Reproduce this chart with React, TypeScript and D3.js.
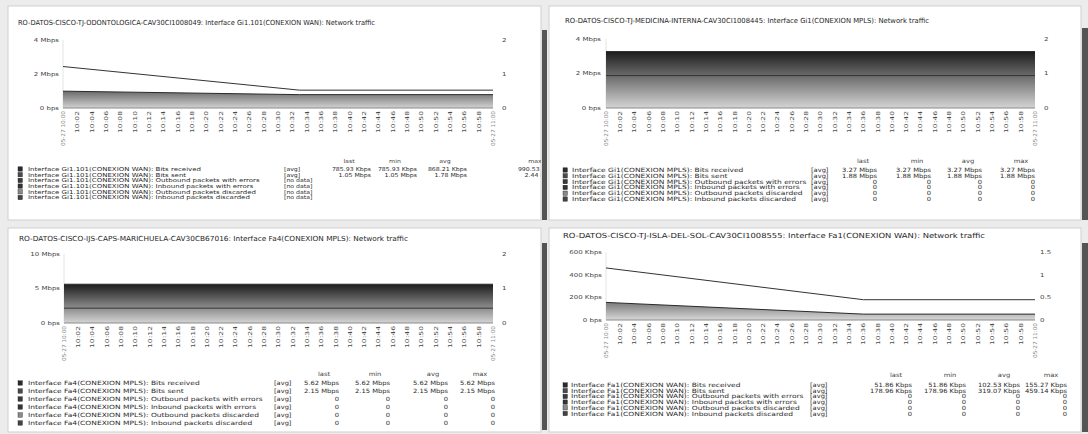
import * as d3 from "d3";

const DATE = "05-27";
const START = "10:00";
const END = "11:00";

const metricNames = [
  "Bits received",
  "Bits sent",
  "Outbound packets with errors",
  "Inbound packets with errors",
  "Outbound packets discarded",
  "Inbound packets discarded",
];
const legendHeader = ["last", "min", "avg", "max"];

// Panel 1 - top left
const p1Title = "RO-DATOS-CISCO-TJ-ODONTOLOGICA-CAV30CI1008049: Interface Gi1.101(CONEXION WAN): Network traffic";
const p1Iface = "Interface Gi1.101(CONEXION WAN)";
const p1YMax = 4000000;
const p1YLabels = ["0 bps", "2 Mbps", "4 Mbps"];
const p1RLabels = ["0", "1", "2"];
const p1Times = ["10:00", "10:33", "11:00"];
const p1Received = [990530, 785930, 785930];
const p1Sent = [2440000, 1050000, 1050000];
const p1Func = ["[avg]", "[avg]", "[no data]", "[no data]", "[no data]", "[no data]"];
const p1Last = ["785.93 Kbps", "1.05 Mbps", "", "", "", ""];
const p1Min = ["785.93 Kbps", "1.05 Mbps", "", "", "", ""];
const p1Avg = ["868.21 Kbps", "1.78 Mbps", "", "", "", ""];
const p1Max = ["990.53 Kbps", "2.44 Mbps", "", "", "", ""];

// Panel 2 - top right
const p2Title = "RO-DATOS-CISCO-TJ-MEDICINA-INTERNA-CAV30CI1008445: Interface Gi1(CONEXION MPLS): Network traffic";
const p2Iface = "Interface Gi1(CONEXION MPLS)";
const p2YMax = 4000000;
const p2YLabels = ["0 bps", "2 Mbps", "4 Mbps"];
const p2RLabels = ["0", "1", "2"];
const p2Times = ["10:00", "11:00"];
const p2Received = [3270000, 3270000];
const p2Sent = [1880000, 1880000];
const p2Func = ["[avg]", "[avg]", "[avg]", "[avg]", "[avg]", "[avg]"];
const p2Last = ["3.27 Mbps", "1.88 Mbps", "0", "0", "0", "0"];
const p2Min = ["3.27 Mbps", "1.88 Mbps", "0", "0", "0", "0"];
const p2Avg = ["3.27 Mbps", "1.88 Mbps", "0", "0", "0", "0"];
const p2Max = ["3.27 Mbps", "1.88 Mbps", "0", "0", "0", "0"];

// Panel 3 - bottom left
const p3Title = "RO-DATOS-CISCO-IJS-CAPS-MARICHUELA-CAV30CB67016: Interface Fa4(CONEXION MPLS): Network traffic";
const p3Iface = "Interface Fa4(CONEXION MPLS)";
const p3YMax = 10000000;
const p3YLabels = ["0 bps", "5 Mbps", "10 Mbps"];
const p3RLabels = ["0", "1", "2"];
const p3Times = ["10:00", "11:00"];
const p3Received = [5620000, 5620000];
const p3Sent = [2150000, 2150000];
const p3Func = ["[avg]", "[avg]", "[avg]", "[avg]", "[avg]", "[avg]"];
const p3Last = ["5.62 Mbps", "2.15 Mbps", "0", "0", "0", "0"];
const p3Min = ["5.62 Mbps", "2.15 Mbps", "0", "0", "0", "0"];
const p3Avg = ["5.62 Mbps", "2.15 Mbps", "0", "0", "0", "0"];
const p3Max = ["5.62 Mbps", "2.15 Mbps", "0", "0", "0", "0"];

// Panel 4 - bottom right
const p4Title = "RO-DATOS-CISCO-TJ-ISLA-DEL-SOL-CAV30CI1008555: Interface Fa1(CONEXION WAN): Network traffic";
const p4Iface = "Interface Fa1(CONEXION WAN)";
const p4YMax = 600000;
const p4YLabels = ["0 bps", "200 Kbps", "400 Kbps", "600 Kbps"];
const p4RLabels = ["0", "0.5", "1", "1.5"];
const p4Times = ["10:00", "10:36", "11:00"];
const p4Received = [155270, 51860, 51860];
const p4Sent = [459140, 178960, 178960];
const p4Func = ["[avg]", "[avg]", "[avg]", "[avg]", "[avg]", "[avg]"];
const p4Last = ["51.86 Kbps", "178.96 Kbps", "0", "0", "0", "0"];
const p4Min = ["51.86 Kbps", "178.96 Kbps", "0", "0", "0", "0"];
const p4Avg = ["102.53 Kbps", "319.07 Kbps", "0", "0", "0", "0"];
const p4Max = ["155.27 Kbps", "459.14 Kbps", "0", "0", "0", "0"];

const panels = [
  { title: p1Title, iface: p1Iface, yMax: p1YMax, yLabels: p1YLabels, rLabels: p1RLabels, times: p1Times, received: p1Received, sent: p1Sent, func: p1Func, cols: [p1Last, p1Min, p1Avg, p1Max] },
  { title: p2Title, iface: p2Iface, yMax: p2YMax, yLabels: p2YLabels, rLabels: p2RLabels, times: p2Times, received: p2Received, sent: p2Sent, func: p2Func, cols: [p2Last, p2Min, p2Avg, p2Max] },
  { title: p3Title, iface: p3Iface, yMax: p3YMax, yLabels: p3YLabels, rLabels: p3RLabels, times: p3Times, received: p3Received, sent: p3Sent, func: p3Func, cols: [p3Last, p3Min, p3Avg, p3Max] },
  { title: p4Title, iface: p4Iface, yMax: p4YMax, yLabels: p4YLabels, rLabels: p4RLabels, times: p4Times, received: p4Received, sent: p4Sent, func: p4Func, cols: [p4Last, p4Min, p4Avg, p4Max] },
];

// geometry of each widget as it sits in the (slightly skewed) screenshot
const layouts = [
  { px: 8, py: 6, pw: 533, ph: 214, tx: 18, ty: 23, tlen: 357, l: 63, r: 493, t: 40, b: 108, ylx: 59, rx: 502, hy: 161, ry0: 169, rdy: 5.7, fs: 5.4, sqx: 18, txx: 28, fnx: 284, cx: [371, 417, 467, 557], hoff: -22, grad: ["#6a6a6a", "#d2d2d2"] },
  { px: 549, py: 6, pw: 532, ph: 214, tx: 565, ty: 21, tlen: 364, l: 606, r: 1035, t: 39, b: 108, ylx: 601, rx: 1044, hy: 161, ry0: 170, rdy: 5.8, fs: 5.8, sqx: 563, txx: 572, fnx: 811, cx: [877, 931, 982, 1035], hoff: -14, grad: ["#1c1c1c", "#d4d4d4"] },
  { px: 8, py: 228, pw: 533, ph: 204, tx: 19, ty: 239, tlen: 389, l: 64, r: 493, t: 254, b: 323, ylx: 60, rx: 502, hy: 374, ry0: 383, rdy: 8, fs: 5.8, sqx: 18, txx: 28, fnx: 274, cx: [339, 390, 448, 495], hoff: -15, grad: ["#1c1c1c", "#d4d4d4"] },
  { px: 549, py: 228, pw: 532, ph: 204, tx: 563, ty: 236, tlen: 422, l: 606, r: 1035, t: 252, b: 320, ylx: 602, rx: 1040, hy: 375, ry0: 385, rdy: 5.7, fs: 5.8, sqx: 563, txx: 571, fnx: 810, cx: [912, 966, 1020, 1067], hoff: -16, grad: ["#7a7a7a", "#d8d8d8"] },
];

const squareColors = ["#2b2b2b", "#4a4a4a", "#3a3a3a", "#333333", "#8a8a8a", "#444444"];

const FONT = "'DejaVu Sans', sans-serif";
const SX = 1.3;
const VSX = 1.16;
const parseHM = d3.timeParse("%H:%M");
const fmtHM = d3.timeFormat("%H:%M");

function T({ x, y, size, anchor = "start", fill = "#2a2a2a", sx = SX, children }: any) {
  return (
    <text
      transform={`translate(${x},${y}) scale(${sx},1)`}
      fontSize={size}
      textAnchor={anchor}
      dy="0.35em"
      fill={fill}
      fontFamily={FONT}
    >
      {children}
    </text>
  );
}

function Panel({ d, g, id }: any) {
  const x = d3.scaleTime().domain([parseHM(START)!, parseHM(END)!]).range([g.l, g.r]);
  const y = d3.scaleLinear().domain([0, d.yMax]).range([g.b, g.t]);
  const yr = d3.scaleLinear().domain([0, 1]).range([0, d.rLabels.length - 1]);
  const ticks = x.ticks(d3.timeMinute.every(2)!);
  const yTicks = y.ticks(d.yLabels.length - 1);
  const pts = d.times.map((s: string) => parseHM(s)!);

  const area = d3.area<number>().x((_, i) => x(pts[i])).y0(g.b).y1((v) => y(v));
  const line = d3.line<number>().x((_, i) => x(pts[i])).y((v) => y(v));

  return (
    <g>
      <defs>
        <clipPath id={`clip${id}`}>
          <rect x={g.px} y={g.py} width={g.pw} height={g.ph} />
        </clipPath>
        <linearGradient id={`grad${id}`} x1="0" y1="0" x2="0" y2="1">
          <stop offset="0%" stopColor={g.grad[0]} />
          <stop offset="100%" stopColor={g.grad[1]} />
        </linearGradient>
      </defs>
      <rect x={g.px} y={g.py} width={g.pw} height={g.ph} fill="#fff" stroke="#cfcfcf" />
      <g clipPath={`url(#clip${id})`}>
        <text x={g.tx} y={g.ty} dy="0.35em" fontSize={7} fontFamily={FONT} fill="#1e1e1e"
          textLength={g.tlen} lengthAdjust="spacingAndGlyphs">
          {d.title}
        </text>

        {/* plot */}
        <line x1={g.l} x2={g.l} y1={g.t} y2={g.b} stroke="#e4e4e4" />
        <path d={area(d.received)!} fill={`url(#grad${id})`} />
        <path d={line(d.received)!} fill="none" stroke="#2a2a2a" strokeWidth={1} />
        <path d={line(d.sent)!} fill="none" stroke="#333" strokeWidth={1} />
        <line x1={g.l} x2={g.r} y1={g.b} y2={g.b} stroke="#8a8a8a" />

        {yTicks.map((v, i) => (
          <T key={"yl" + i} x={g.ylx} y={y(v)} size={5.4} anchor="end" fill="#444">
            {d.yLabels[i]}
          </T>
        ))}
        {yTicks.map((v, i) => (
          <T key={"yr" + i} x={g.rx} y={y(v)} size={5.4} fill="#444">
            {d.rLabels[Math.round(yr((v / d.yMax)))]}
          </T>
        ))}

        {ticks.map((tk, i) => {
          const edge = i === 0 || i === ticks.length - 1;
          return (
            <text
              key={"xt" + i}
              transform={`translate(${x(tk)},${g.b + 3}) rotate(-90)`}
              textAnchor="end"
              dy="0.35em"
              fontSize={5.4}
              fontFamily={FONT}
              fill={edge ? "#8a8a8a" : "#4a4a4a"}
              textLength={edge ? 35 : 22}
              lengthAdjust="spacingAndGlyphs"
            >
              {edge ? `${DATE} ${fmtHM(tk)}` : fmtHM(tk)}
            </text>
          );
        })}

        {/* legend */}
        {legendHeader.map((h, j) => (
          <T key={"h" + j} x={g.cx[j] + g.hoff} y={g.hy} size={g.fs} anchor="middle" fill="#444" sx={VSX}>
            {h}
          </T>
        ))}
        {metricNames.map((m, i) => {
          const ry = g.ry0 + i * g.rdy;
          return (
            <g key={"lg" + i}>
              <rect x={g.sqx} y={ry - 2.2} width={4.4} height={4.4} fill={squareColors[i]} stroke="#222" strokeWidth={0.4} />
              <T x={g.txx} y={ry} size={g.fs}>{`${d.iface}: ${m}`}</T>
              <T x={g.fnx} y={ry} size={g.fs} sx={1.15}>{d.func[i]}</T>
              {d.cols.map((col: string[], j: number) => (
                <T key={"c" + j} x={g.cx[j]} y={ry} size={g.fs} anchor="end" sx={VSX}>
                  {col[i]}
                </T>
              ))}
            </g>
          );
        })}
      </g>
    </g>
  );
}

export default function App() {
  return (
    <svg width={1088} height={434} style={{ position: "absolute", left: 0, top: 0 }}>
      <rect x={0} y={0} width={1088} height={434} fill="#ececec" />
      {panels.map((d, i) => (
        <Panel key={i} d={d} g={layouts[i]} id={i} />
      ))}
      <rect x={542} y={30} width={5} height={190} fill="#555" />
      <rect x={1082} y={28} width={6} height={192} fill="#555" />
      <rect x={542} y={243} width={5} height={187} fill="#555" />
      <rect x={1082} y={243} width={6} height={189} fill="#555" />
    </svg>
  );
}
